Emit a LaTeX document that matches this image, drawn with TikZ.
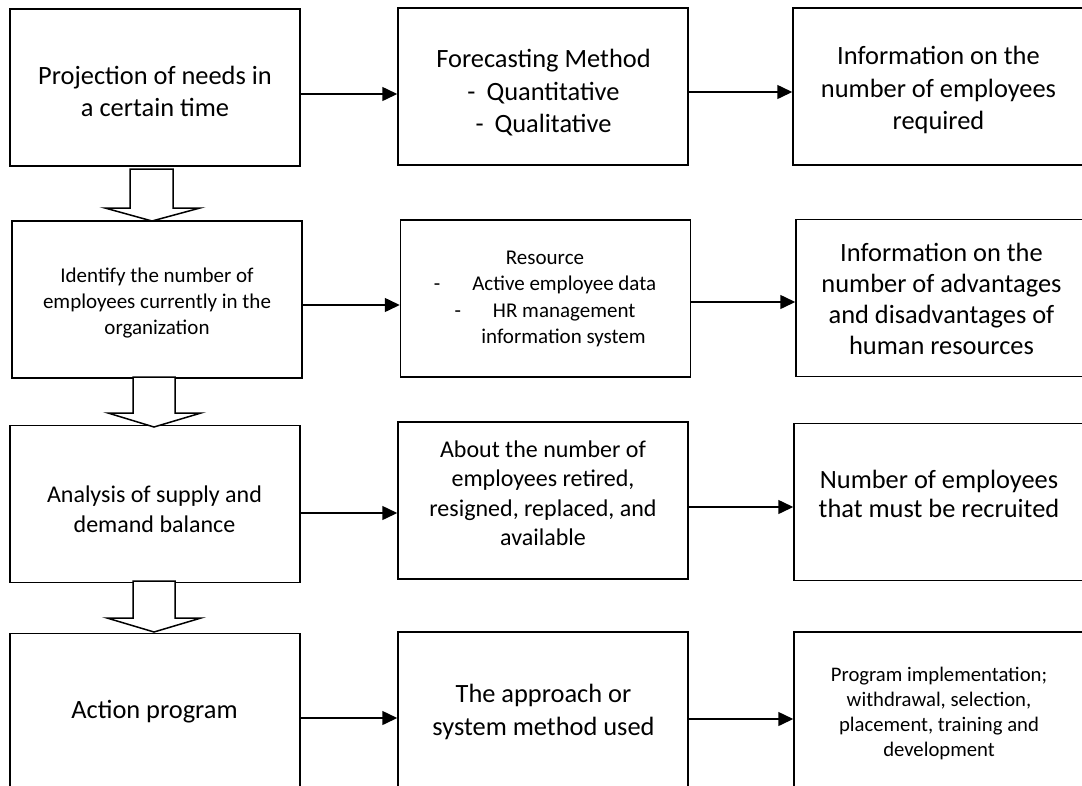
\documentclass[tikz,border=0pt]{standalone}
\usepackage{fontspec}
\setmainfont{Carlito}
\usetikzlibrary{arrows.meta,calc}
\begin{document}
\begin{tikzpicture}[x=1pt,y=-1pt,
  box/.style={draw=black, line width=1.5pt, minimum width=290pt, minimum height=157pt, inner sep=0pt},
  txt/.style={align=center, inner sep=0pt, text=black},
  big/.style={font=\fontsize{26.4}{32.5}\selectfont},
  bigtight/.style={font=\fontsize{26.4}{29}\selectfont},
  mid/.style={font=\fontsize{24}{29.5}\selectfont},
  small/.style={font=\fontsize{21}{26.3}\selectfont},
  tiny/.style={font=\fontsize{20.7}{25}\selectfont},
  arr/.style={line width=1.5pt, -{Triangle[length=15pt,width=14pt]}},
  blk/.style={draw=black, line width=1.5pt, fill=white, line join=miter}]
\useasboundingbox (0,0) rectangle (1082,785);
\clip (0,0) rectangle (1082,785);

% boxes
\node[box] (A1) at (155,87.5) {};
\node[box] (B1) at (543,86.5) {};
\node[box] (C1) at (938,86.5) {};
\node[box] (A2) at (157,299.5) {};
\node[box] (B2) at (545.5,298.5) {};
\node[box] (C2) at (941,298) {};
\node[box] (A3) at (155,504) {};
\node[box] (B3) at (543,500.5) {};
\node[box] (C3) at (939,502) {};
\node[box] (A4) at (155,712) {};
\node[box] (B4) at (543,710.5) {};
\node[box] (C4) at (939,710.5) {};

% texts
\node[txt,big] (tA1) at (155,91.5) {Projection of needs in\\a certain time};
\node[txt,big] (tB1) at (543.5,93) {Forecasting Method\\-\hspace{11pt}Quantitative\\-\hspace{11pt}Qualitative};
\node[txt,big] (tC1) at (938.5,90) {Information on the\\number of employees\\required};
\node[txt,small] (tA2) at (157,303) {Identify the number of\\employees currently in the\\organization};
\node[txt,small] (tB2) at (545,299) {Resource\\-\hspace{32pt}Active employee data\\-\hspace{32pt}HR management\\\hspace*{37pt}information system};
\node[txt,font=\fontsize{26.4}{31}\selectfont] (tC2) at (941.5,298.5) {Information on the\\number of advantages\\and disadvantages of\\human resources};
\node[txt,mid] (tA3) at (154.5,509) {Analysis of supply and\\demand balance};
\node[txt,mid] (tB3) at (543,493) {About the number of\\employees retired,\\resigned, replaced, and\\available};
\node[txt,bigtight] (tC3) at (939,494) {Number of employees\\that must be recruited};
\node[txt,big] (tA4) at (154.5,712) {Action program};
\node[txt,big] (tB4) at (543.5,712) {The approach or\\system method used};
\node[txt,tiny] (tC4) at (939,713.5) {Program implementation;\\withdrawal, selection,\\placement, training and\\development};

% horizontal arrows
\draw[arr] (A1.east |- 0,94) -- (B1.west |- 0,94);
\draw[arr] (B1.east |- 0,92) -- (C1.west |- 0,92);
\draw[arr] (A2.east |- 0,305) -- (B2.west |- 0,305);
\draw[arr] (B2.east |- 0,302) -- (C2.west |- 0,302);
\draw[arr] (A3.east |- 0,513) -- (B3.west |- 0,513);
\draw[arr] (B3.east |- 0,507) -- (C3.west |- 0,507);
\draw[arr] (A4.east |- 0,718) -- (B4.west |- 0,718);
\draw[arr] (B4.east |- 0,719) -- (C4.west |- 0,719);

% block arrows
\draw[blk] (130,169) -- (173,169) -- (173,208) -- (200,208) -- (152,221) -- (105,208) -- (130,208) -- cycle;
\draw[blk] (133,377) -- (175,377) -- (175,413) -- (201,413) -- (154,427) -- (108,413) -- (133,413) -- cycle;
\draw[blk] (133,581) -- (175,581) -- (175,618) -- (201,618) -- (154,632) -- (107,618) -- (133,618) -- cycle;
\end{tikzpicture}
\end{document}
